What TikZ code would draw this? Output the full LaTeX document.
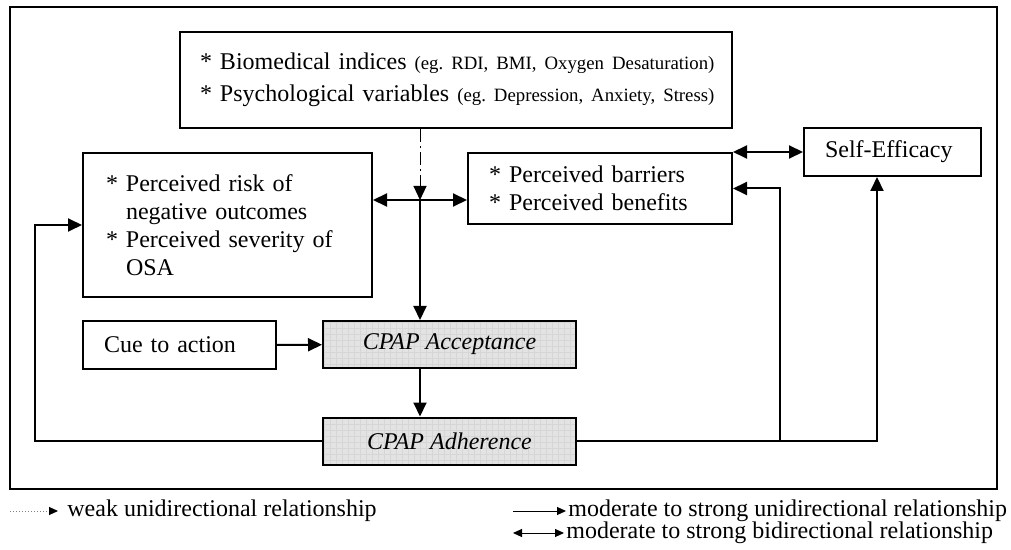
\documentclass[tikz,border=0pt]{standalone}
\usepackage{fontspec}
\setmainfont{Liberation Serif}
\usetikzlibrary{arrows.meta,patterns}
\frenchspacing

\tikzset{
  blk/.style={draw, line width=1pt, align=left, inner xsep=10.5pt, inner ysep=0pt,
    font=\fontsize{12}{14}\selectfont},
  cpap/.style={blk, align=center, font=\fontsize{12}{14}\selectfont\itshape,
    minimum width=126.5pt, minimum height=23.5pt,
    preaction={fill=black!11}, pattern=grid, pattern color=black!16},
  conn/.style={line width=1pt, -{Triangle[length=7pt,width=6.5pt]}},
  biconn/.style={line width=1pt, {Triangle[length=7pt,width=6.5pt]}-{Triangle[length=7pt,width=6.5pt]}},
  weak/.style={line width=0.5pt, dash pattern=on 6.5pt off 2pt on 1pt off 2pt,
    -{Triangle[length=7pt,width=6.5pt]}},
  lgd/.style={anchor=west, inner sep=0pt, font=\fontsize{12}{14}\selectfont},
  lconn/.style={line width=0.5pt, -{Triangle[length=4.5pt,width=4pt]}, shorten >=1pt},
}
\newcommand{\egtext}[1]{{\fontsize{9.4}{11}\selectfont #1}}

\begin{document}
\begin{tikzpicture}[x=0.5pt, y=-0.5pt]
 \useasboundingbox (0,0) rectangle (1011,550);
 \draw[line width=1pt] (10,7) rectangle (997,489);

 % boxes
 \node[blk, text width=256pt, inner xsep=10pt, minimum height=48pt] (ind) at (456,80)
  {\mbox{* Biomedical indices \egtext{(eg. RDI, BMI, Oxygen Desaturation)}}\\[2pt]
   \mbox{* Psychological variables \egtext{(eg. Depression, Anxiety, Stress)}}};
 \node[blk, text width=121.5pt, inner xsep=11.5pt, minimum height=72pt] (risk) at (227.5,225)
  {{*} Perceived risk of\\\hphantom{* }negative outcomes\\{*} Perceived severity of\\\hphantom{* }OSA};
 \node[blk, text width=111pt, minimum height=35.5pt] (bar) at (600,188.5)
  {{*} Perceived barriers\\{*} Perceived benefits};
 \node[blk, text width=67.5pt, minimum height=24pt] (se) at (892.5,152) {Self-Efficacy};
 \node[blk, text width=75.5pt, minimum height=24pt] (cue) at (179.5,345) {Cue to action};
 \node[cpap] (acc) at (449.5,344.5) {CPAP Acceptance};
 \node[cpap] (adh) at (449.5,441) {CPAP Adherence};

 % connectors
 \coordinate (j) at (420,200);
 \draw[weak] (ind.south -| j) -- (j);
 \draw[biconn] (j -| risk.east) -- (j -| bar.west);
 \draw[conn] (j) -- (j |- acc.north);
 \draw[conn] (cue) -- (acc);
 \draw[conn] (acc.south -| j) -- (adh.north -| j);
 \draw[conn] (adh.west) -| ([xshift=-23.5pt]risk.west) -- (risk.west);
 \draw[conn] (adh.east) -| ([xshift=23.5pt]bar.east) -- (bar.east);
 \draw[conn] ([xshift=23.5pt]bar.east |- adh.east) -| ([xshift=-7.75pt]se.south);
 \draw[biconn] (bar.north east) -- (bar.north east -| se.west);

 % legend
 \node[lgd] (lw) at (67,511) {weak unidirectional relationship};
 \node[lgd] (lu) at (568,511) {moderate to strong unidirectional relationship};
 \node[lgd] (lb) at (566,533) {moderate to strong bidirectional relationship};
 \coordinate (lw0) at (10,511);
 \coordinate (lu0) at (513,511);
 \coordinate (lb0) at (513,533);
 \draw[lconn, gray, densely dotted, -{Triangle[length=4.5pt,width=4pt,color=black]}, shorten >=4.5pt] (lw0) -- (lw.west);
 \draw[lconn] (lu0) -- (lu.west);
 \draw[lconn, {Triangle[length=4.5pt,width=4pt]}-{Triangle[length=4.5pt,width=4pt]}] (lb0) -- (lb.west);
\end{tikzpicture}
\end{document}
